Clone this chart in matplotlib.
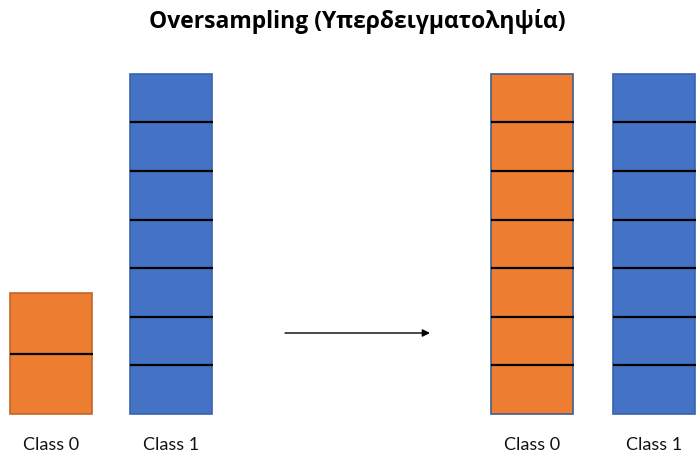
import matplotlib.pyplot as plt

# sample counts per class, before and after oversampling
classes = ["Class 0", "Class 1"]
before_counts = [2, 7]
after_counts = [7, 7]

title = "Oversampling (Υπερδειγματοληψία)"

orange = "#ED7D31"
blue = "#4472C4"
fills = [orange, blue]
edges_before = ["#C0662A", "#3A63AD"]
edges_after = ["#3F5E8E", "#3A63AD"]

# layout in pixel units (y measured up from the bottom of the figure)
W, H = 697, 454
base = 40
bar_w = 82
x_before = [51, 171]
x_after = [532, 654]
seg_before = [60.5, 48.6]
seg_after = [48.6, 48.6]

fig = plt.figure(figsize=(W / 100, H / 100), dpi=100)
ax = fig.add_axes([0, 0, 1, 1])
ax.set_xlim(0, W)
ax.set_ylim(0, H)
ax.axis("off")


def draw_stack(xs, counts, segs, edges):
    for x, n, h, fc, ec in zip(xs, counts, segs, fills, edges):
        ax.bar(x, n * h, bottom=base, width=bar_w, color=fc,
               edgecolor=ec, linewidth=1.2, zorder=2)
        ys = [base + k * h for k in range(1, n)]
        ax.hlines(ys, x - bar_w / 2, x + bar_w / 2 + 1, colors="black",
                  linewidth=1.6, zorder=3)


draw_stack(x_before, before_counts, seg_before, edges_before)
draw_stack(x_after, after_counts, seg_after, edges_after)

for xs in (x_before, x_after):
    for x, name in zip(xs, classes):
        ax.text(x, 4, name, ha="center", va="baseline", fontsize=13,
                family=["Lato", "DejaVu Sans"], color="#111111")

ax.annotate("", xy=(430, 121), xytext=(285, 121),
            arrowprops=dict(arrowstyle="-|>", color="black", lw=1.0,
                            mutation_scale=11, shrinkA=0, shrinkB=0))

ax.text(357, 425.5, title, ha="center", va="baseline", fontsize=16.5,
        fontweight="bold", family=["Open Sans", "DejaVu Sans"])

fig.savefig("out.png", dpi=100)
